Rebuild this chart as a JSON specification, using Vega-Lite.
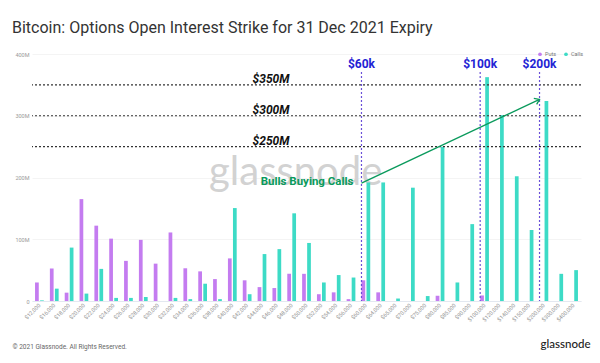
{
  "$schema": "https://vega.github.io/schema/vega-lite/v6.json",
  "width": 549,
  "height": 247,
  "autosize": {"type": "none"},
  "padding": {"left": 32, "top": 54, "right": 19, "bottom": 62},
  "background": "white",
  "title": {
    "text": "Bitcoin: Options Open Interest Strike for 31 Dec 2021 Expiry",
    "anchor": "start",
    "frame": "group",
    "dx": -20,
    "offset": 2,
    "baseline": "alphabetic",
    "fontSize": 16,
    "fontWeight": "normal",
    "color": "#333333",
    "font": "Roboto"
  },
  "config": {
    "view": {"stroke": null},
    "font": "Roboto"
  },
  "datasets": {
    "oi": [
      {"strike": "$12,000", "type": "Puts", "oi": 30},
      {"strike": "$12,000", "type": "Calls", "oi": 1},
      {"strike": "$16,000", "type": "Puts", "oi": 52.5},
      {"strike": "$16,000", "type": "Calls", "oi": 20},
      {"strike": "$18,000", "type": "Puts", "oi": 13.5},
      {"strike": "$18,000", "type": "Calls", "oi": 86.5},
      {"strike": "$20,000", "type": "Puts", "oi": 165},
      {"strike": "$20,000", "type": "Calls", "oi": 12},
      {"strike": "$22,000", "type": "Puts", "oi": 122},
      {"strike": "$22,000", "type": "Calls", "oi": 52},
      {"strike": "$24,000", "type": "Puts", "oi": 101},
      {"strike": "$24,000", "type": "Calls", "oi": 5},
      {"strike": "$26,000", "type": "Puts", "oi": 65},
      {"strike": "$26,000", "type": "Calls", "oi": 5},
      {"strike": "$28,000", "type": "Puts", "oi": 99},
      {"strike": "$28,000", "type": "Calls", "oi": 6.5},
      {"strike": "$30,000", "type": "Puts", "oi": 60.5},
      {"strike": "$30,000", "type": "Calls", "oi": 0},
      {"strike": "$32,000", "type": "Puts", "oi": 111},
      {"strike": "$32,000", "type": "Calls", "oi": 5},
      {"strike": "$34,000", "type": "Puts", "oi": 53},
      {"strike": "$34,000", "type": "Calls", "oi": 3},
      {"strike": "$36,000", "type": "Puts", "oi": 48},
      {"strike": "$36,000", "type": "Calls", "oi": 28},
      {"strike": "$38,000", "type": "Puts", "oi": 35.5},
      {"strike": "$38,000", "type": "Calls", "oi": 3},
      {"strike": "$40,000", "type": "Puts", "oi": 69},
      {"strike": "$40,000", "type": "Calls", "oi": 150.5},
      {"strike": "$42,000", "type": "Puts", "oi": 33.5},
      {"strike": "$42,000", "type": "Calls", "oi": 11},
      {"strike": "$44,000", "type": "Puts", "oi": 22.5},
      {"strike": "$44,000", "type": "Calls", "oi": 76},
      {"strike": "$46,000", "type": "Puts", "oi": 21},
      {"strike": "$46,000", "type": "Calls", "oi": 84},
      {"strike": "$48,000", "type": "Puts", "oi": 44},
      {"strike": "$48,000", "type": "Calls", "oi": 142},
      {"strike": "$50,000", "type": "Puts", "oi": 44},
      {"strike": "$50,000", "type": "Calls", "oi": 94},
      {"strike": "$52,000", "type": "Puts", "oi": 11},
      {"strike": "$52,000", "type": "Calls", "oi": 30},
      {"strike": "$54,000", "type": "Puts", "oi": 14},
      {"strike": "$54,000", "type": "Calls", "oi": 42},
      {"strike": "$56,000", "type": "Puts", "oi": 3},
      {"strike": "$56,000", "type": "Calls", "oi": 38},
      {"strike": "$60,000", "type": "Puts", "oi": 33.5},
      {"strike": "$60,000", "type": "Calls", "oi": 192},
      {"strike": "$64,000", "type": "Puts", "oi": 14},
      {"strike": "$64,000", "type": "Calls", "oi": 192},
      {"strike": "$65,000", "type": "Calls", "oi": 4},
      {"strike": "$70,000", "type": "Calls", "oi": 183.5},
      {"strike": "$75,000", "type": "Calls", "oi": 8},
      {"strike": "$80,000", "type": "Puts", "oi": 8.5},
      {"strike": "$80,000", "type": "Calls", "oi": 250},
      {"strike": "$85,000", "type": "Calls", "oi": 30},
      {"strike": "$90,000", "type": "Calls", "oi": 124.5},
      {"strike": "$100,000", "type": "Puts", "oi": 9},
      {"strike": "$100,000", "type": "Calls", "oi": 362.5},
      {"strike": "$120,000", "type": "Calls", "oi": 301},
      {"strike": "$140,000", "type": "Calls", "oi": 202},
      {"strike": "$150,000", "type": "Calls", "oi": 115},
      {"strike": "$200,000", "type": "Calls", "oi": 324},
      {"strike": "$300,000", "type": "Calls", "oi": 44},
      {"strike": "$400,000", "type": "Calls", "oi": 50}
    ],
    "levels": [
      {"v": 250, "label": "$250M"},
      {"v": 300, "label": "$300M"},
      {"v": 350, "label": "$350M"}
    ],
    "marks": [
      {"strike": "$60,000", "label": "$60k"},
      {"strike": "$100,000", "label": "$100k"},
      {"strike": "$200,000", "label": "$200k"}
    ],
    "arrow": [
      {"strike": "$60,000", "v": 191, "end": 0},
      {"strike": "$200,000", "v": 326.5, "end": 1}
    ],
    "notes": [
      {"note": "watermark", "text": "glassnode", "strike": "$48,000", "v": 188},
      {"note": "bulls", "text": "Bulls Buying Calls", "strike": "$60,000", "v": 188},
      {"note": "logo", "text": "glassnode", "strike": "$400,000", "v": -76}
    ]
  },
  "layer": [
    {
      "data": {"name": "notes"},
      "transform": [{"filter": "datum.note == 'watermark'"}],
      "mark": {"type": "text", "fontSize": 40, "font": "Lato", "fontWeight": 400, "color": "#d2d2d2", "align": "center", "baseline": "alphabetic", "dx": 4},
      "encoding": {
        "x": {"field": "strike", "type": "nominal"},
        "y": {"field": "v", "type": "quantitative", "scale": {"domain": [0, 400], "nice": false}},
        "text": {"field": "text"}
      }
    },
    {
      "data": {"name": "oi"},
      "mark": {"type": "bar"},
      "encoding": {
        "x": {
          "field": "strike",
          "type": "nominal",
          "sort": null,
          "scale": {
            "domain": ["$12,000", "$16,000", "$18,000", "$20,000", "$22,000", "$24,000", "$26,000", "$28,000", "$30,000", "$32,000", "$34,000", "$36,000", "$38,000", "$40,000", "$42,000", "$44,000", "$46,000", "$48,000", "$50,000", "$52,000", "$54,000", "$56,000", "$60,000", "$64,000", "$65,000", "$70,000", "$75,000", "$80,000", "$85,000", "$90,000", "$100,000", "$120,000", "$140,000", "$150,000", "$200,000", "$300,000", "$400,000"],
            "paddingInner": 0.41,
            "paddingOuter": 0.205
          },
          "axis": {
            "title": "© 2021 Glassnode. All Rights Reserved.",
            "titleX": -20,
            "titleY": 47,
            "titleAlign": "left",
            "titleAnchor": null,
            "titleBaseline": "alphabetic",
            "titleFontSize": 6.5,
            "titleFontWeight": "normal",
            "titleColor": "#666666",
            "labelAngle": -45,
            "labelFontSize": 5.5,
            "labelColor": "#999999",
            "labelPadding": 3,
            "ticks": false,
            "domainColor": "#e3e8f0",
            "grid": false
          }
        },
        "xOffset": {
          "field": "type",
          "type": "nominal",
          "sort": ["Puts", "Calls"],
          "scale": {"domain": ["Puts", "Calls"], "paddingInner": 0.26, "paddingOuter": 0}
        },
        "y": {
          "field": "oi",
          "type": "quantitative",
          "scale": {"domain": [0, 400], "nice": false},
          "axis": {
            "title": null,
            "values": [0, 50, 100, 150, 200, 250, 300, 350, 400],
            "labelExpr": "datum.value == 0 ? '0' : datum.value + 'M'",
            "labelFontSize": 5.5,
            "labelColor": "#999999",
            "labelPadding": 3,
            "ticks": false,
            "domain": false,
            "gridColor": "#f1f1f1",
            "gridWidth": 0.8
          }
        },
        "color": {
          "field": "type",
          "type": "nominal",
          "scale": {"domain": ["Puts", "Calls"], "range": ["#c47cf0", "#3ddbc6"]},
          "legend": {
            "title": null,
            "orient": "none",
            "direction": "horizontal",
            "legendX": 505,
            "legendY": -3,
            "symbolType": "circle",
            "symbolSize": 14,
            "labelFontSize": 5.5,
            "labelColor": "#777777",
            "columnPadding": 6,
            "labelOffset": 2
          }
        }
      }
    },
    {
      "data": {"name": "levels"},
      "mark": {"type": "rule", "color": "#333333", "strokeWidth": 1.2, "strokeDash": [2, 2]},
      "encoding": {
        "y": {"field": "v", "type": "quantitative", "scale": {"domain": [0, 400], "nice": false}}
      }
    },
    {
      "data": {"name": "levels"},
      "mark": {"type": "text", "fontSize": 12, "fontStyle": "italic", "fontWeight": "bold", "color": "#111111", "align": "right", "baseline": "alphabetic", "dy": -2},
      "encoding": {
        "x": {"datum": "$48,000", "type": "nominal", "bandPosition": 0.25},
        "y": {"field": "v", "type": "quantitative", "scale": {"domain": [0, 400], "nice": false}},
        "text": {"field": "label"}
      }
    },
    {
      "data": {"name": "marks"},
      "mark": {"type": "rule", "color": "#6a50d8", "strokeWidth": 1.2, "strokeDash": [2, 2]},
      "encoding": {
        "x": {"field": "strike", "type": "nominal", "bandPosition": 0},
        "y": {"datum": 371, "type": "quantitative"},
        "y2": {"datum": 0}
      }
    },
    {
      "data": {"name": "marks"},
      "mark": {"type": "text", "fontSize": 12, "fontWeight": "bold", "color": "#2323d4", "align": "center", "baseline": "alphabetic"},
      "encoding": {
        "x": {"field": "strike", "type": "nominal", "bandPosition": 0},
        "y": {"datum": 377, "type": "quantitative"},
        "text": {"field": "label"}
      }
    },
    {
      "data": {"name": "arrow"},
      "mark": {"type": "line", "color": "#0a9a5c", "strokeWidth": 1.3},
      "encoding": {
        "x": {"field": "strike", "type": "nominal", "bandPosition": 0},
        "y": {"field": "v", "type": "quantitative", "scale": {"domain": [0, 400], "nice": false}},
        "order": {"field": "end"}
      }
    },
    {
      "data": {"name": "arrow"},
      "transform": [{"filter": "datum.end == 1"}],
      "mark": {"type": "point", "shape": "M-1,-0.7L0,0L-1,0.7", "filled": false, "stroke": "#0a9a5c", "strokeWidth": 1.3, "size": 90, "angle": 335, "opacity": 1},
      "encoding": {
        "x": {"field": "strike", "type": "nominal", "bandPosition": 0},
        "y": {"field": "v", "type": "quantitative", "scale": {"domain": [0, 400], "nice": false}}
      }
    },
    {
      "data": {"name": "notes"},
      "transform": [{"filter": "datum.note == 'bulls'"}],
      "mark": {"type": "text", "fontSize": 11.5, "fontWeight": "bold", "color": "#0a9a5c", "align": "right", "baseline": "alphabetic", "dx": -8},
      "encoding": {
        "x": {"field": "strike", "type": "nominal", "bandPosition": 0},
        "y": {"field": "v", "type": "quantitative", "scale": {"domain": [0, 400], "nice": false}},
        "text": {"field": "text"}
      }
    },
    {
      "data": {"name": "notes"},
      "transform": [{"filter": "datum.note == 'logo'"}],
      "mark": {"type": "text", "fontSize": 11.5, "font": "Lato", "fontWeight": 500, "color": "#222222", "align": "right", "baseline": "alphabetic", "dx": 17},
      "encoding": {
        "x": {"field": "strike", "type": "nominal"},
        "y": {"field": "v", "type": "quantitative", "scale": {"domain": [0, 400], "nice": false}},
        "text": {"field": "text"}
      }
    }
  ]
}
